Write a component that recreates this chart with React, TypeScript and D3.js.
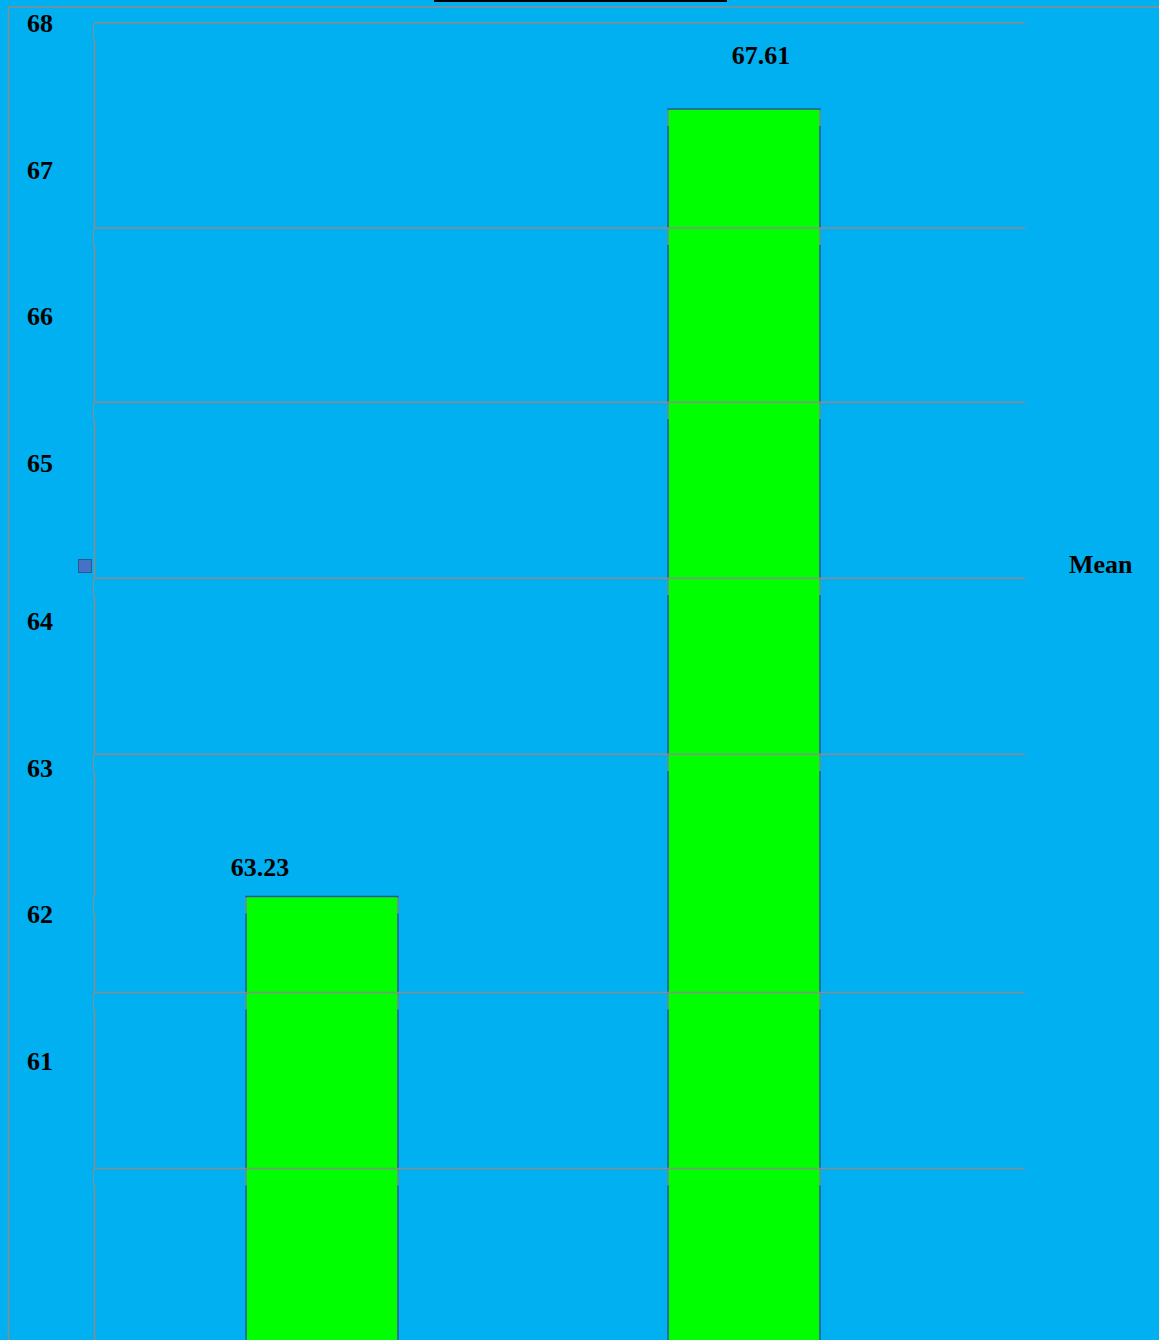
import React, { useEffect } from "react";
import * as d3 from "d3";

// ---- data ----
const categories = ["Group A", "Group B"];
const meanValues = [63.23, 67.61];
const seriesName = "Mean";
const tickLabels = [68, 67, 66, 65, 64, 63, 62, 61];
const gridValues = [66.948, 65.979, 65.0, 64.021, 62.696, 61.717];
const plotTopValue = 68.09;
const baseValue = 60;

// ---- layout / style ----
const W = 1159;
const H = 1340;
const BG = "#00B0F0";
const GRID = "#8c8c8c";
const BAR_FILL = "#00FF00";
const BAR_STROKE = "#2f5597";
const FONT = "'Liberation Serif', 'Times New Roman', serif";
const labelShift = [
  { dx: -62, dy: -21 },
  { dx: 17, dy: -45 },
];
const BAND_H = 16;

export default function App() {
  useEffect(() => {
    document.body.style.margin = "0";
    document.body.style.overflow = "hidden";
  }, []);

  const plotLeft = 94;
  const plotRight = 1025;

  const y = d3.scaleLinear().domain([63.23, 67.61]).range([896.5, 109]);
  const yLabel = d3
    .scaleLinear()
    .domain([61, 64, 65, 68])
    .range([1061, 621, 463, 23]);
  const x = d3
    .scaleBand<string>()
    .domain(categories)
    .range([111, 955])
    .paddingInner(0.64)
    .paddingOuter(0.32);

  const plotTop = y(plotTopValue);
  const gridYs = gridValues.map((v) => y(v));
  const leftBandYs = [plotTop, ...gridYs, y(meanValues[0])];

  return (
    <svg
      width={W}
      height={H}
      style={{ position: "absolute", left: 0, top: 0, display: "block" }}
    >
      <rect x={0} y={0} width={W} height={H} fill={BG} />
      {/* top black bar (title box edge) */}
      <rect x={434} y={0} width={293} height={2} fill="#000" />
      {/* outer frame */}
      <line x1={8.5} y1={7} x2={8.5} y2={H} stroke={GRID} strokeWidth={1.5} />
      <line x1={8} y1={7} x2={W} y2={7} stroke={GRID} strokeWidth={1.5} />

      {/* plot area borders */}
      <line x1={plotLeft} y1={plotTop} x2={plotRight} y2={plotTop} stroke={GRID} strokeWidth={1.5} />
      <line x1={plotLeft + 0.5} y1={plotTop} x2={plotLeft + 0.5} y2={H} stroke={GRID} strokeWidth={1.5} />

      {/* bars */}
      {meanValues.map((v, i) => (
        <rect
          key={categories[i]}
          x={x(categories[i])!}
          y={y(v)}
          width={x.bandwidth()}
          height={y(baseValue) - y(v)}
          fill={BAR_FILL}
          stroke={BAR_STROKE}
          strokeWidth={1.5}
        />
      ))}

      {/* gridlines */}
      {gridValues.map((v) => (
        <line
          key={v}
          x1={plotLeft}
          x2={plotRight}
          y1={y(v)}
          y2={y(v)}
          stroke={GRID}
          strokeWidth={1.5}
        />
      ))}

      {/* rendering bands under horizontal edges: left border */}
      {leftBandYs.map((by, k) => (
        <g key={"lb" + k}>
          <rect x={plotLeft - 1} y={by + 1} width={3} height={BAND_H} fill={BG} />
          <line x1={plotLeft - 0.5} x2={plotLeft - 0.5} y1={by + 1} y2={by + 1 + BAND_H} stroke={GRID} strokeWidth={1} />
        </g>
      ))}

      {/* rendering bands on bar edges */}
      {meanValues.map((v, i) => {
        const bx = x(categories[i])!;
        const bw = x.bandwidth();
        const ys = [y(v), ...gridYs.filter((g) => g > y(v))];
        return (
          <g key={"bb" + i}>
            {ys.map((by, k) => (
              <g key={k}>
                <line x1={bx} x2={bx} y1={by + 1} y2={by + 1 + BAND_H} stroke="#6fa58a" strokeWidth={1.5} />
                <line x1={bx + bw} x2={bx + bw} y1={by + 1} y2={by + 1 + BAND_H} stroke="#6fa58a" strokeWidth={1.5} />
              </g>
            ))}
          </g>
        );
      })}

      {/* value labels */}
      {meanValues.map((v, i) => (
        <text
          key={"lbl" + i}
          x={x(categories[i])! + x.bandwidth() / 2 + labelShift[i].dx}
          y={y(v) + labelShift[i].dy}
          textAnchor="middle"
          fontFamily={FONT}
          fontWeight="bold"
          fontSize={26}
          fill="#000"
        >
          {v.toFixed(2)}
        </text>
      ))}

      {/* y tick labels */}
      {tickLabels.map((t) => (
        <text
          key={"t" + t}
          x={27}
          y={yLabel(t)}
          dy="0.35em"
          fontFamily={FONT}
          fontWeight="bold"
          fontSize={26}
          fill="#000"
        >
          {t}
        </text>
      ))}

      {/* legend */}
      <rect x={78.5} y={559.5} width={13} height={13} fill="#4472c4" stroke="#2f5597" strokeWidth={1} />
      <text
        x={1069}
        y={573}
        fontFamily={FONT}
        fontWeight="bold"
        fontSize={26}
        fill="#000"
      >
        {seriesName}
      </text>
    </svg>
  );
}
